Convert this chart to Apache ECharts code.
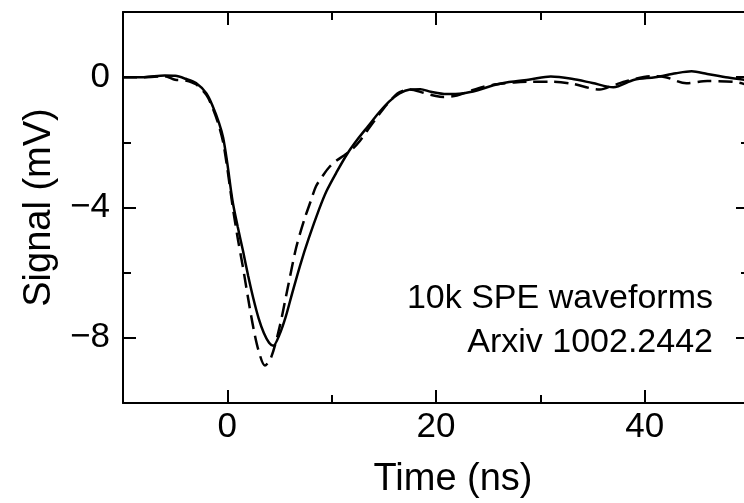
<!DOCTYPE html>
<html>
<head>
<meta charset="utf-8">
<script src="https://cdn.jsdelivr.net/npm/echarts@6/dist/echarts.min.js"></script>
<style>
    html, body { margin: 0; padding: 0; background: #fff; }
    #chart_wave { width: 744px; height: 503px; }
</style>
</head>
<body>
<div id="chart_wave"></div>
<script>
    // solid: measured average waveform
    var timeSolid = [-10, -8, -6, -5, -4, -3, -2, -1.4, -0.8, -0.4, 0, 0.5, 1, 1.5, 2, 2.5, 3, 3.5, 4, 4.4,
        5, 5.6, 6.2, 7, 7.8, 8.8, 9.5, 10.5, 11.5, 12.5, 13.5, 14.5, 15.5, 16.5, 17.5, 18.5, 19.5, 21, 22.5, 24,
        25.5, 27, 29, 31, 33, 35, 37, 39, 41, 43, 44.5, 46, 48, 50];
    var signalSolid = [0, 0, 0.05, 0.04, -0.05, -0.18, -0.5, -0.89, -1.4, -1.86, -2.65, -3.8, -4.6, -5.33, -6.1, -6.8, -7.4, -7.85, -8.15, -8.24,
        -7.9, -7.35, -6.65, -5.75, -4.95, -4.05, -3.5, -2.9, -2.35, -1.9, -1.5, -1.1, -0.75, -0.5, -0.38, -0.37, -0.45, -0.52, -0.5, -0.4,
        -0.25, -0.15, -0.07, 0.02, -0.05, -0.18, -0.31, -0.08, 0, 0.12, 0.18, 0.1, -0.01, -0.1];
    // dashed: second waveform
    var timeDashed = [-10, -8, -6, -5, -4, -3, -2, -1.4, -0.8, -0.4, 0, 0.5, 1, 1.5, 2, 2.5, 3, 3.6, 4.2, 5,
        5.8, 6.6, 7.4, 8, 8.5, 9.2, 9.8, 10.5, 11.1, 12, 12.7, 13.5, 14.3, 15, 15.6, 16.3, 16.8, 17.5, 18.8, 20,
        20.7, 22, 23.2, 24.5, 25.8, 27.5, 29, 31, 33, 35.7, 37, 38.3, 40.5, 42, 44, 46, 48.5, 50];
    var signalDashed = [0, 0, 0.03, -0.08, -0.1, -0.22, -0.55, -0.95, -1.5, -2.0, -2.8, -3.95, -4.95, -5.84, -6.8, -7.7, -8.4, -8.85, -8.6, -7.68,
        -6.45, -5.23, -4.35, -3.8, -3.35, -3.0, -2.75, -2.55, -2.42, -2.2, -1.96, -1.6, -1.25, -0.95, -0.73, -0.5, -0.42, -0.38, -0.48, -0.58,
        -0.61, -0.56, -0.43, -0.3, -0.22, -0.16, -0.14, -0.14, -0.2, -0.38, -0.25, -0.12, 0.03, 0, -0.19, -0.12, -0.14, -0.25];

    var xMajor = [0, 20, 40];
    var xMinor = [-10, 10, 30, 50];
    var yMajor = [0, -4, -8];
    var yMinor = [-2, -6];

    var font = '"Liberation Sans", Arial, sans-serif';
    var ink = '#000';

    function pairs(xs, ys) {
        return xs.map(function (x, i) { return [x, ys[i]]; });
    }

    function xAx(pos, ticks, len, withLine, withLabel) {
        return {
            type: 'value', position: pos, min: -10, max: 50,
            axisLine: {show: withLine, onZero: false, lineStyle: {color: ink, width: 2}},
            axisTick: {show: true, inside: true, length: len, customValues: ticks, lineStyle: {color: ink, width: 2}},
            axisLabel: withLabel ? {customValues: ticks, color: ink, fontSize: 35, fontFamily: font, margin: 7} : {show: false},
            splitLine: {show: false}
        };
    }
    function yAx(pos, ticks, len, withLine, withLabel) {
        return {
            type: 'value', position: pos, min: -10, max: 2,
            axisLine: {show: withLine, onZero: false, lineStyle: {color: ink, width: 2}},
            axisTick: {show: true, inside: true, length: len, customValues: ticks, lineStyle: {color: ink, width: 2}},
            axisLabel: withLabel ? {
                customValues: ticks, color: ink, fontSize: 35, fontFamily: font, margin: 13,
                formatter: function (v) { return String(v).replace('-', '\u2212'); }
            } : {show: false},
            splitLine: {show: false}
        };
    }

    var xBottom = xAx('bottom', xMajor, 13, true, true);
    xBottom.name = 'Time (ns)';
    xBottom.nameLocation = 'middle';
    xBottom.nameGap = 58;
    xBottom.nameTextStyle = {color: ink, fontSize: 38, fontFamily: font, padding: [0, 0, 0, 34]};

    var yLeft = yAx('left', yMajor, 13, true, true);
    yLeft.name = 'Signal (mV)';
    yLeft.nameLocation = 'middle';
    yLeft.nameGap = 64;
    yLeft.nameTextStyle = {color: ink, fontSize: 38, fontFamily: font};

    var myChart = echarts.init(document.getElementById('chart_wave'));
    var option = {
        animation: false,
        backgroundColor: '#fff',
        grid: {left: 123, top: 12, width: 626, height: 391, containLabel: false, outerBoundsMode: 'none'},
        xAxis: [
            xBottom,
            xAx('bottom', xMinor, 8, false, false),
            xAx('top', xMajor, 13, true, false),
            xAx('top', xMinor, 8, false, false)
        ],
        yAxis: [
            yLeft,
            yAx('left', yMinor, 8, false, false),
            yAx('right', yMajor, 13, true, false),
            yAx('right', yMinor, 8, false, false)
        ],
        graphic: [
            {type: 'text', x: 713, y: 299, style: {text: '10k SPE waveforms', align: 'right', verticalAlign: 'middle', fill: ink, fontSize: 34, fontFamily: font}},
            {type: 'text', x: 713, y: 343, style: {text: 'Arxiv 1002.2442', align: 'right', verticalAlign: 'middle', fill: ink, fontSize: 34, fontFamily: font}}
        ],
        series: [
            {
                name: 'solid', type: 'line', smooth: 0.3, showSymbol: false,
                data: pairs(timeSolid, signalSolid),
                lineStyle: {color: ink, width: 2.5}
            },
            {
                name: 'dashed', type: 'line', smooth: 0.3, showSymbol: false,
                data: pairs(timeDashed, signalDashed),
                lineStyle: {color: ink, width: 2.5, type: [14, 7]}
            }
        ]
    };
    myChart.setOption(option);
</script>
</body>
</html>
